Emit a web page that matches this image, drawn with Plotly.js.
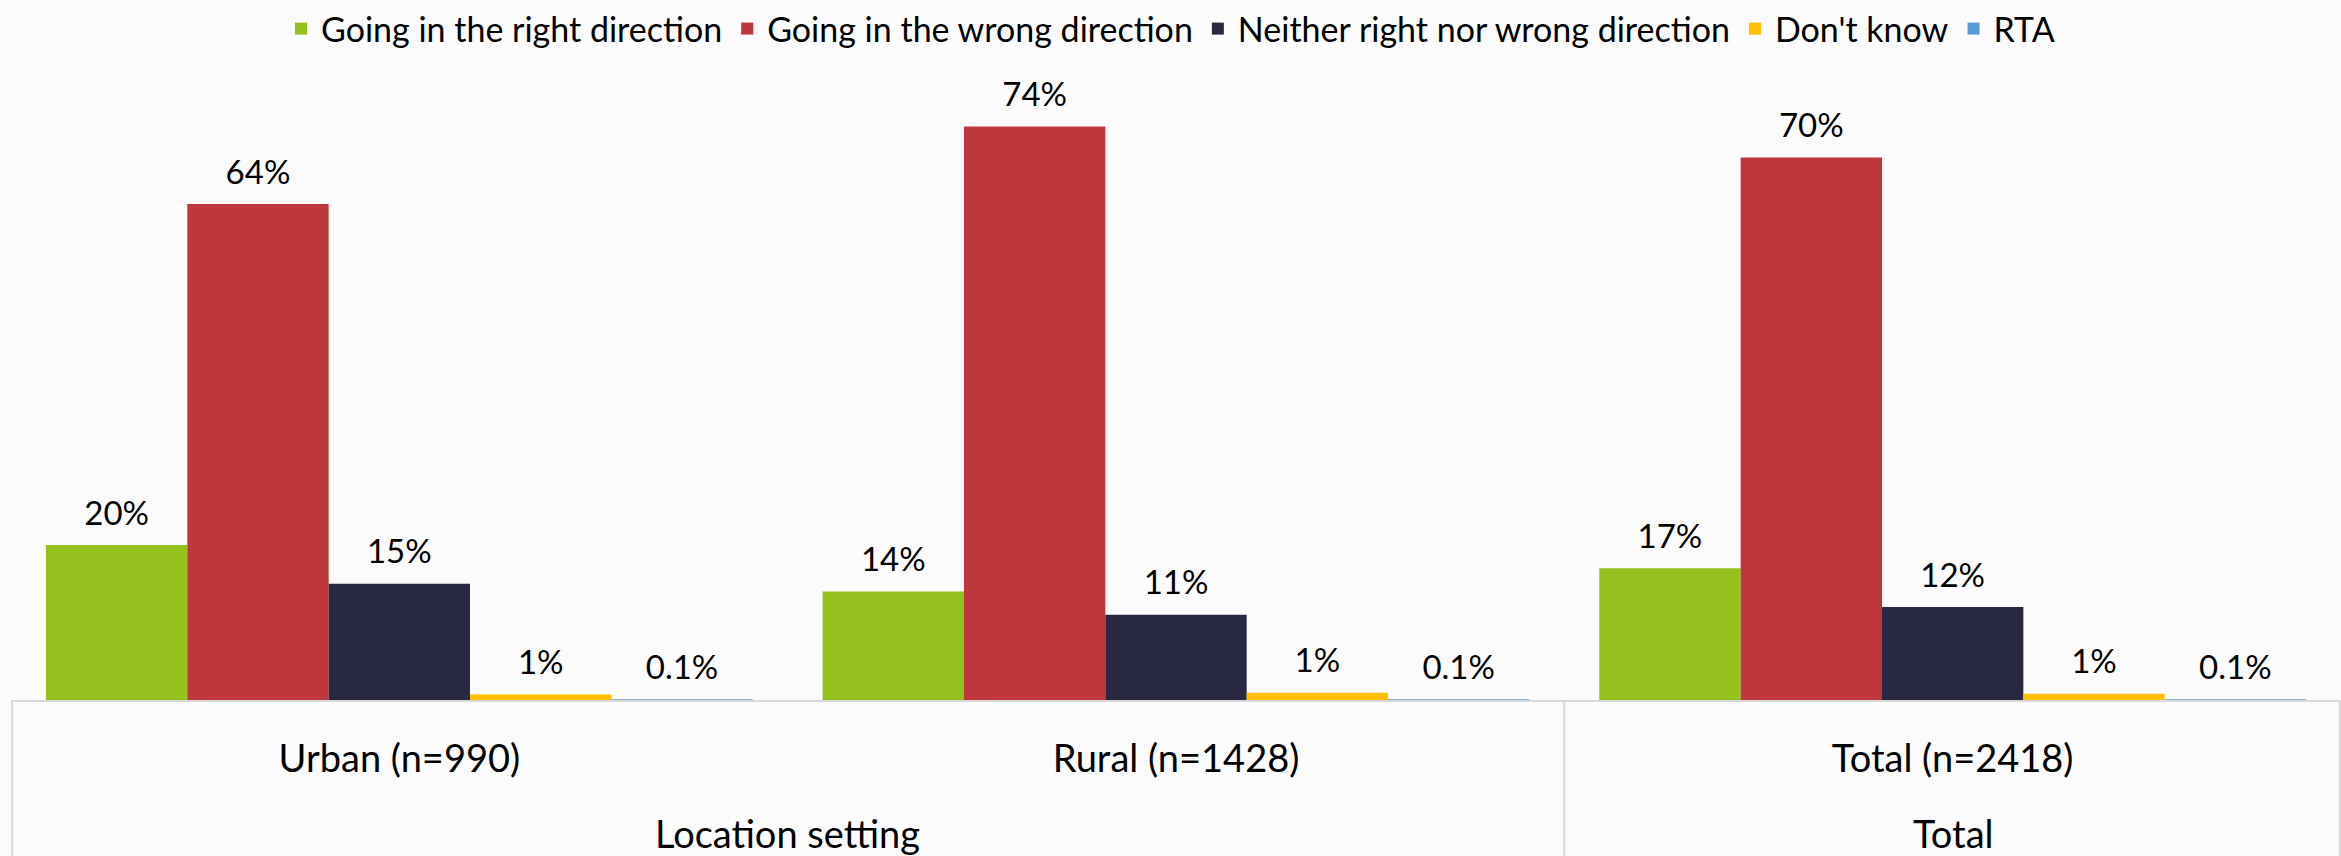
<!DOCTYPE html>
<html>
<head>
<meta charset="utf-8">
<script src="https://cdn.plot.ly/plotly-3.0.1.min.js"></script>
<style>
  html, body { margin: 0; padding: 0; background: #fbfbfb; }
  #chart { width: 2341px; height: 856px; }
</style>
</head>
<body>
<div id="chart"></div>
<script>
// ---- data ----
const groupLabels = ["Location setting", "Location setting", "Total"];
const categories = ["Urban (n=990)", "Rural (n=1428)", "Total (n=2418)"];
const seriesNames = ["Going in the right direction", "Going in the wrong direction", "Neither right nor wrong direction", "Don't know", "RTA"];
const rightDirection = [20, 14, 17];
const wrongDirection = [64, 74, 70];
const neitherDirection = [15, 11, 12];
const dontKnow = [0.7, 0.95, 0.8];
const rta = [0.1, 0.1, 0.1];
const rightLabels = ["20%", "14%", "17%"];
const wrongLabels = ["64%", "74%", "70%"];
const neitherLabels = ["15%", "11%", "12%"];
const dontKnowLabels = ["1%", "1%", "1%"];
const rtaLabels = ["0.1%", "0.1%", "0.1%"];
const colors = ["#95C11F", "#BE373D", "#282841", "#FFC000", "#5B9BD5"];

const seriesValues = [rightDirection, wrongDirection, neitherDirection, dontKnow, rta];
const seriesLabels = [rightLabels, wrongLabels, neitherLabels, dontKnowLabels, rtaLabels];

const FONT = "Lato, 'Open Sans', sans-serif";
const AXIS_GREY = "#d9d9d9";

const traces = [];
seriesNames.forEach((name, i) => {
  traces.push({
    type: "bar",
    name: name,
    x: categories,
    y: seriesValues[i],
    offsetgroup: String(i),
    marker: { color: colors[i], line: { width: 0 } },
    hoverinfo: "skip"
  });
});
seriesNames.forEach((name, i) => {
  traces.push({
    type: "scatter",
    mode: "markers+text",
    name: name + " labels",
    x: categories,
    y: seriesValues[i],
    text: seriesLabels[i],
    textposition: "top center",
    textfont: { family: FONT, size: 33, color: "#000000" },
    marker: { size: 18, color: "rgba(0,0,0,0)" },
    offsetgroup: String(i),
    cliponaxis: false,
    showlegend: false,
    hoverinfo: "skip"
  });
});

// group spans (second label level) derived from groupLabels
const groups = [];
groupLabels.forEach((g, i) => {
  const last = groups[groups.length - 1];
  if (last && last.label === g) last.end = i;
  else groups.push({ label: g, start: i, end: i });
});

const PLOT_TOP = 80, PLOT_BOTTOM_MARGIN = 156, H = 856;
const plotH = H - PLOT_TOP - PLOT_BOTTOM_MARGIN;

const annotations = groups.map(g => ({
  xref: "x", yref: "paper",
  x: (g.start + g.end) / 2,
  y: -133 / plotH,
  yanchor: "middle", xanchor: "center",
  text: g.label,
  showarrow: false,
  font: { family: FONT, size: 38, color: "#000000" }
}));

const shapes = [];
groups.forEach((g, k) => {
  if (k === 0) {
    shapes.push({ type: "line", xref: "paper", yref: "paper", x0: 0.0005, x1: 0.0005,
      y0: 0, y1: -(PLOT_BOTTOM_MARGIN + 2) / plotH, line: { color: AXIS_GREY, width: 2 } });
  }
  const isLast = k === groups.length - 1;
  shapes.push({ type: "line", xref: isLast ? "paper" : "x", yref: "paper",
    x0: isLast ? 0.9995 : g.end + 0.5, x1: isLast ? 0.9995 : g.end + 0.5,
    y0: 0, y1: -(PLOT_BOTTOM_MARGIN + 2) / plotH, line: { color: AXIS_GREY, width: 2 } });
});

const layout = {
  width: 2341,
  height: H,
  paper_bgcolor: "#fbfbfb",
  plot_bgcolor: "rgba(0,0,0,0)",
  font: { family: FONT, size: 34, color: "#000000" },
  margin: { l: 11, r: 0, t: PLOT_TOP, b: PLOT_BOTTOM_MARGIN, pad: 0, autoexpand: false },
  barmode: "group",
  bargap: 0.09,
  bargroupgap: 0,
  scattermode: "group",
  scattergap: 0.09,
  showlegend: true,
  legend: {
    orientation: "h",
    x: 0.5, xanchor: "center",
    xref: "container",
    y: 1.0, yanchor: "top",
    yref: "container",
    font: { family: FONT, size: 34, color: "#000000" },
    bgcolor: "rgba(0,0,0,0)",
    traceorder: "normal"
  },
  xaxis: {
    type: "category",
    range: [-0.5, categories.length - 0.5],
    showline: true,
    linecolor: AXIS_GREY,
    linewidth: 2,
    ticks: "",
    ticklabelstandoff: 24,
    showgrid: false,
    zeroline: false,
    automargin: false,
    tickfont: { family: FONT, size: 38, color: "#000000" }
  },
  yaxis: {
    range: [0, 80],
    showticklabels: false,
    showgrid: false,
    zeroline: false,
    showline: false,
    automargin: false,
    ticks: ""
  },
  annotations: annotations,
  shapes: shapes
};

Plotly.newPlot("chart", traces, layout, { displayModeBar: false, staticPlot: true });
</script>
</body>
</html>
